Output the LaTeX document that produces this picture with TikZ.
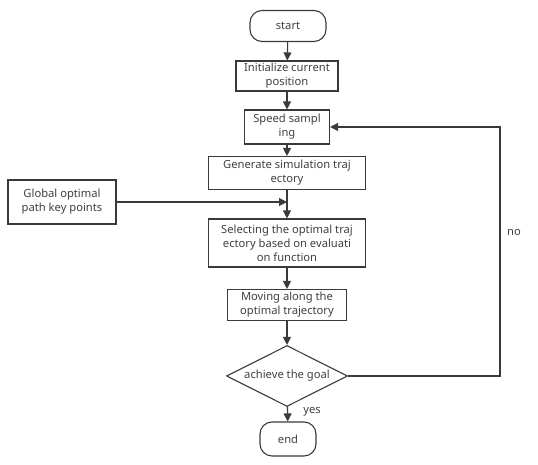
\documentclass[tikz,border=0pt]{standalone}
\usepackage{fontspec}
\setmainfont{Noto Sans}
\usetikzlibrary{arrows.meta,shapes.geometric}
\definecolor{ink}{HTML}{3A3A3A}
\definecolor{txt}{HTML}{404040}
\newcommand\fsB{\fontsize{11.2}{14}\selectfont}

\begin{document}
\begin{tikzpicture}[x=1pt,y=1pt,
  term/.style={draw=ink,line width=1.1pt,rounded corners=12pt,font=\fsB,text=txt,inner sep=0},
  proc/.style={draw=ink,line width=1.1pt,align=center,font=\fsB,text=txt,inner sep=0},
  test/.style={draw=ink,line width=1.1pt,diamond,aspect=2,font=\fsB,text=txt,inner sep=0,
    minimum width=121,minimum height=61},
  lbl/.style={font=\fsB,text=txt,inner sep=0},
  flow/.style={ink,line width=1.1pt,-{Triangle[length=8pt,width=8pt]}}]
\useasboundingbox (0,0) rectangle (538,465);
\def\cx{287}
% ============ main column ============
\node[term,minimum width=76,minimum height=31] (start) at (\cx+1,439) {start};
\node[proc,minimum width=102,minimum height=30] (init) at (\cx,389) {Initialize current\\position};
\node[proc,minimum width=85,minimum height=34] (speed) at (\cx,338) {Speed sampl\\ing};
\node[proc,minimum width=157,minimum height=33] (gen) at (\cx,292) {Generate simulation traj\\ectory};
\node[proc,minimum width=157,minimum height=48] (sel) at (\cx,222) {Selecting the optimal traj\\ectory based on evaluati\\on function};
\node[proc,minimum width=119,minimum height=31] (move) at (\cx,160) {Moving along the\\optimal trajectory};
\node[test] (goal) at (\cx,89) {achieve the goal};
\node[term,minimum width=56,minimum height=34] (end) at (\cx+1,26) {end};
% side input
\node[proc,minimum width=108,minimum height=44] (glob) at (62,263) {Global optimal\\path key points};
% ============ connectors ============
\draw[flow] (start) -- (init);
\draw[flow] (init) -- (speed);
\draw[flow] (speed) -- (gen);
\draw[flow] (gen) -- (sel);
\draw[flow] (glob.east) -- (glob.east -| gen.south);
\draw[flow] (sel) -- (move);
\draw[flow] (move) -- (goal);
\draw[flow] (goal) -- (end);
\coordinate (turn) at (500,89);
\draw[flow] (goal.east) -- (turn) |- (speed.east);
\node[lbl] (no) at (514,232) {no};
\node[lbl] (yes) at (312,53) {yes};
\end{tikzpicture}
\end{document}
